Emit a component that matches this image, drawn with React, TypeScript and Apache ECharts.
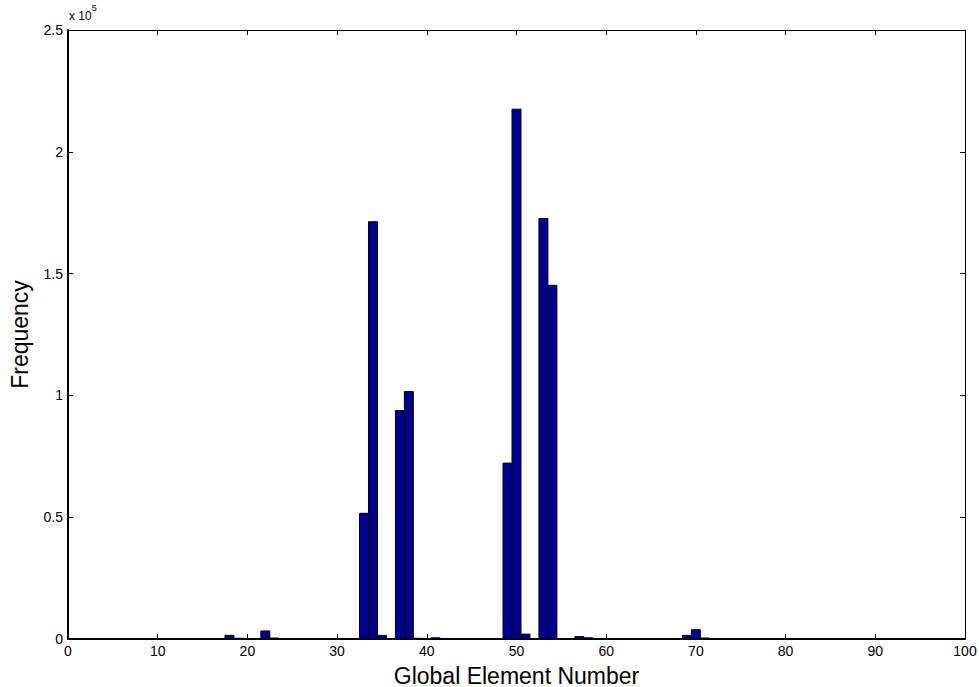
import React, { useEffect, useRef } from "react";
import * as echarts from "echarts";

const elementNumbers = [18, 19, 22, 23, 33, 34, 35, 37, 38, 39, 41, 49, 50, 51, 53, 54, 57, 58, 65, 67, 69, 70, 71, 73, 74];
const frequencies = [1500, 300, 3300, 400, 51600, 171300, 1500, 93800, 101600, 300, 500, 72200, 217500, 2000, 172600, 145200, 1000, 500, 200, 200, 1500, 3800, 400, 200, 200];
const xTicks = [0, 10, 20, 30, 40, 50, 60, 70, 80, 90, 100];
const yTicks = [0, 50000, 100000, 150000, 200000, 250000];

export default function App() {
  const ref = useRef<HTMLDivElement>(null);
  useEffect(() => {
    document.body.style.margin = "0";
    const chart = echarts.init(ref.current!, null, { renderer: "svg" });
    const font = "Liberation Sans, Arial, Helvetica, sans-serif";
    const data = elementNumbers.map((x, i) => [x, frequencies[i]]);
    const tickStyle = { show: true, inside: true, length: 5, lineStyle: { color: "#000", width: 1 } };
    chart.setOption({
      animation: false,
      backgroundColor: "#fff",
      grid: { left: 68, top: 30, width: 897, height: 609, containLabel: false, outerBoundsMode: "none" },
      xAxis: [
        {
          type: "value",
          min: xTicks[0],
          max: xTicks[xTicks.length - 1],
          interval: 10,
          position: "bottom",
          axisLine: { show: true, onZero: false, lineStyle: { color: "#000", width: 2 } },
          axisTick: tickStyle,
          splitLine: { show: false },
          axisLabel: { color: "#000", fontSize: 14, fontFamily: font, margin: 5 },
          name: "Global Element Number",
          nameLocation: "middle",
          nameGap: 25,
          nameTextStyle: { color: "#000", fontSize: 23, fontFamily: font },
        },
        {
          type: "value",
          min: xTicks[0],
          max: xTicks[xTicks.length - 1],
          interval: 10,
          position: "top",
          axisLine: { show: true, onZero: false, lineStyle: { color: "#000", width: 1 } },
          axisTick: tickStyle,
          splitLine: { show: false },
          axisLabel: { show: false },
        },
      ],
      yAxis: [
        {
          type: "value",
          min: yTicks[0],
          max: yTicks[yTicks.length - 1],
          interval: 50000,
          position: "left",
          axisLine: { show: true, onZero: false, lineStyle: { color: "#000", width: 2 } },
          axisTick: tickStyle,
          splitLine: { show: false },
          axisLabel: {
            color: "#000",
            fontSize: 14,
            fontFamily: font,
            margin: 5,
            formatter: (v: number) => String(v / 100000),
          },
          name: "Frequency",
          nameLocation: "middle",
          nameGap: 37,
          nameRotate: 90,
          nameTextStyle: { color: "#000", fontSize: 23, fontFamily: font },
        },
        {
          type: "value",
          min: yTicks[0],
          max: yTicks[yTicks.length - 1],
          interval: 50000,
          position: "right",
          axisLine: { show: true, onZero: false, lineStyle: { color: "#000", width: 1 } },
          axisTick: tickStyle,
          splitLine: { show: false },
          axisLabel: { show: false },
        },
      ],
      graphic: [
        {
          type: "text",
          left: 69,
          top: 3,
          style: {
            text: "{a|x 10}{s|5}",
            rich: {
              a: { fontSize: 12, fontFamily: font, fill: "#000", padding: [7, 0, 0, 0] },
              s: { fontSize: 9, fontFamily: font, fill: "#000", verticalAlign: "top" },
            },
          },
        },
      ],
      series: [
        {
          type: "custom",
          xAxisIndex: 0,
          yAxisIndex: 0,
          data,
          renderItem: (params: any, api: any) => {
            const x = api.value(0);
            const y = api.value(1);
            const p0 = api.coord([x - 0.5, y]);
            const p1 = api.coord([x + 0.5, 0]);
            return {
              type: "rect",
              shape: { x: p0[0], y: p0[1], width: p1[0] - p0[0], height: p1[1] - p0[1] },
              style: { fill: "#00008F", stroke: "#000", lineWidth: 1 },
            };
          },
        },
      ],
    });
    return () => chart.dispose();
  }, []);
  return <div ref={ref} style={{ width: 979, height: 687 }} />;
}
